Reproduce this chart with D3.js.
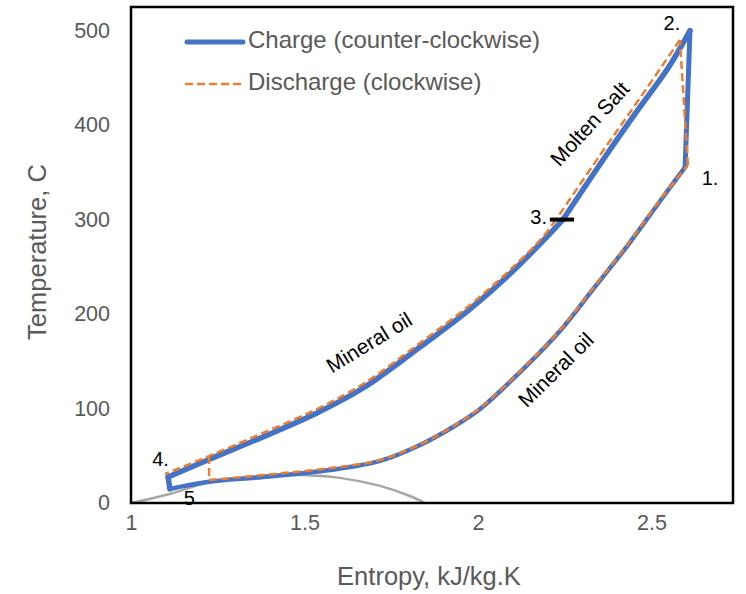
<!DOCTYPE html>
<html>
<head>
<meta charset="utf-8">
<script src="https://cdn.jsdelivr.net/npm/d3@7"></script>
<style>
  body { margin: 0; background: #fff; }
  svg { font-family: "Liberation Sans", Arial, sans-serif; }
</style>
</head>
<body>
<div class="container"></div>
<script>
// entropy (kJ/kg.K) and temperature (C), one pair of arrays per leg of each cycle

// charge: 4 -> 3 (mineral oil), 3 -> 2 (molten salt), 1 -> 5 (mineral oil)
var chargeOilHotS = [1.107, 1.228, 1.380, 1.536, 1.669, 1.833, 1.977, 2.092, 2.187, 2.245];
var chargeOilHotT = [27.5, 46.6, 69.9, 95.3, 121.7, 165.1, 205.3, 242.4, 277.3, 300];
var chargeSaltS = [2.245, 2.372, 2.467, 2.548, 2.611];
var chargeSaltT = [300, 369.4, 419.2, 460.4, 500];
var chargeOilColdS = [2.597, 2.525, 2.430, 2.332, 2.236, 2.101, 2.006, 1.928, 1.833, 1.718, 1.574, 1.380, 1.219, 1.112];
var chargeOilColdT = [355.6, 319.7, 272.0, 226.5, 182.1, 131.3, 99.5, 80.4, 61.4, 44.5, 34.9, 27.5, 22.2, 14.8];

// discharge: 1 -> 2 ... 4, closed by the short vertical near 1.22
var dischargeOilColdS = [1.225, 1.380, 1.574, 1.718, 1.833, 1.928, 2.006, 2.101, 2.236, 2.332, 2.430, 2.525, 2.605];
var dischargeOilColdT = [24.3, 29.6, 37.0, 45.5, 62.0, 81.0, 100.5, 132.0, 183.0, 227.5, 273.0, 321.0, 357.8];
var dischargeSaltS = [2.582, 2.467, 2.352, 2.225];
var dischargeSaltT = [490.1, 428.7, 368.3, 300];
var dischargeOilHotS = [2.225, 2.187, 2.092, 1.977, 1.833, 1.669, 1.536, 1.380, 1.225, 1.098];
var dischargeOilHotT = [300, 281.6, 246.6, 209.6, 169.4, 126.0, 99.5, 74.1, 49.7, 30.7];

// saturation dome
var domeS = [1.000, 1.112, 1.228, 1.372, 1.487, 1.602, 1.718, 1.804, 1.847];
var domeT = [0, 9.6, 22.3, 28.7, 29.7, 26.6, 18.1, 7.4, 0];

// state point 3 marker
var markS = [2.207, 2.277];
var markT = [300, 300];

var xTicks = [1, 1.5, 2, 2.5];
var yTicks = [0, 100, 200, 300, 400, 500];

var pointLabels = ["1.", "2.", "3.", "4.", "5"];
var pointLabelS = [2.669, 2.559, 2.175, 1.085, 1.168];
var pointLabelT = [342, 506, 301, 45, 3];

var W = 746, H = 594;
var svg = d3.select('.container').append('svg').attr('width', W).attr('height', H);

var x = d3.scaleLinear().domain([1, 2.735]).range([131, 733]);
var y = d3.scaleLinear().domain([0, 525]).range([503, 7]);

var zip = function(a, b){
	return a.map(function(v, i){ return [v, b[i]]; });
};

var smooth = d3.line()
	.x(function(d){ return x(d[0]); })
	.y(function(d){ return y(d[1]); })
	.curve(d3.curveCatmullRom.alpha(0.5));
var straight = d3.line()
	.x(function(d){ return x(d[0]); })
	.y(function(d){ return y(d[1]); });

var last = function(a){ return a[a.length - 1]; };

// axes (labels only)
var gx = svg.append('g').attr('transform', 'translate(0,503)')
	.call(d3.axisBottom(x).tickValues(xTicks).tickSize(0).tickPadding(12).tickFormat(d3.format('')));
var gy = svg.append('g').attr('transform', 'translate(131,0)')
	.call(d3.axisLeft(y).tickValues(yTicks).tickSize(0).tickPadding(21));
[gx, gy].forEach(function(g){
	g.select('.domain').remove();
	g.selectAll('text').attr('fill', '#595959').style('font-size', '21.5px')
		.style('font-family', '"Liberation Sans", Arial, sans-serif');
});

svg.append('text').attr('x', 429).attr('y', 585).attr('text-anchor', 'middle')
	.attr('fill', '#595959').style('font-size', '25.5px').text('Entropy, kJ/kg.K');
svg.append('text').attr('transform', 'translate(46,252) rotate(-90)').attr('text-anchor', 'middle')
	.attr('fill', '#595959').style('font-size', '25.5px').text('Temperature, C');

var plot = svg.append('g');

plot.append('path').datum(zip(domeS, domeT)).attr('d', smooth)
	.attr('fill', 'none').attr('stroke', '#A6A6A6').attr('stroke-width', 2.5);

// charge cycle
var blue = function(d, w, curve){
	plot.append('path').datum(d).attr('d', curve)
		.attr('fill', 'none').attr('stroke', '#4472C4').attr('stroke-width', w)
		.attr('stroke-linejoin', 'round').attr('stroke-linecap', 'round');
};
var cHot = zip(chargeOilHotS, chargeOilHotT),
	cSalt = zip(chargeSaltS, chargeSaltT),
	cCold = zip(chargeOilColdS, chargeOilColdT);
blue(cCold, 4.5, smooth);
blue([last(cSalt), cCold[0]], 5, straight);
blue([last(cCold), cHot[0]], 5.5, straight);
blue(cHot, 5.5, smooth);
blue(cSalt, 5.5, smooth);

// discharge cycle
var orange = function(d, curve){
	plot.append('path').datum(d).attr('d', curve)
		.attr('fill', 'none').attr('stroke', '#ED7D31').attr('stroke-width', 2.5)
		.attr('stroke-dasharray', '8,4').attr('stroke-linejoin', 'round');
};
var dCold = zip(dischargeOilColdS, dischargeOilColdT),
	dSalt = zip(dischargeSaltS, dischargeSaltT),
	dHot = zip(dischargeOilHotS, dischargeOilHotT);
orange([dHot[dHot.length - 2], dCold[0]], straight);
orange(dCold, smooth);
orange([last(dCold), dSalt[0]], straight);
orange(dSalt, smooth);
orange(dHot, smooth);

plot.append('path').datum(zip(markS, markT)).attr('d', straight)
	.attr('fill', 'none').attr('stroke', '#000').attr('stroke-width', 4);

// text annotations
plot.selectAll('.pt').data(pointLabels).enter().append('text')
	.attr('class', 'pt')
	.attr('x', function(d, i){ return x(pointLabelS[i]); })
	.attr('y', function(d, i){ return y(pointLabelT[i]); })
	.attr('text-anchor', 'middle').attr('dominant-baseline', 'middle')
	.style('font-size', '20px').attr('fill', '#000')
	.text(function(d){ return d; });

var notes = [
	{t: 'Molten Salt', px: 591, py: 125, a: -47.5},
	{t: 'Mineral oil', px: 370, py: 344, a: -31.5},
	{t: 'Mineral oil', px: 557, py: 371, a: -44.5}
];
notes.forEach(function(n){
	plot.append('text')
		.attr('transform', 'translate(' + n.px + ',' + n.py + ') rotate(' + n.a + ')')
		.attr('text-anchor', 'middle').attr('dominant-baseline', 'middle')
		.style('font-size', '21px').attr('fill', '#000').text(n.t);
});

// legend
var lg = svg.append('g');
lg.append('line').attr('x1', 187).attr('x2', 243).attr('y1', 42).attr('y2', 42)
	.attr('stroke', '#4472C4').attr('stroke-width', 5).attr('stroke-linecap', 'round');
lg.append('text').attr('x', 248).attr('y', 42).attr('dominant-baseline', 'middle')
	.attr('fill', '#595959').style('font-size', '24px').text('Charge (counter-clockwise)');
lg.append('line').attr('x1', 185).attr('x2', 245).attr('y1', 84).attr('y2', 84)
	.attr('stroke', '#ED7D31').attr('stroke-width', 2.5).attr('stroke-dasharray', '8,4');
lg.append('text').attr('x', 248).attr('y', 84).attr('dominant-baseline', 'middle')
	.attr('fill', '#595959').style('font-size', '24px').text('Discharge (clockwise)');

// plot frame
svg.append('rect').attr('x', 131).attr('y', 7).attr('width', 602).attr('height', 496)
	.attr('fill', 'none').attr('stroke', '#000').attr('stroke-width', 2.5);
</script>
</body>
</html>
